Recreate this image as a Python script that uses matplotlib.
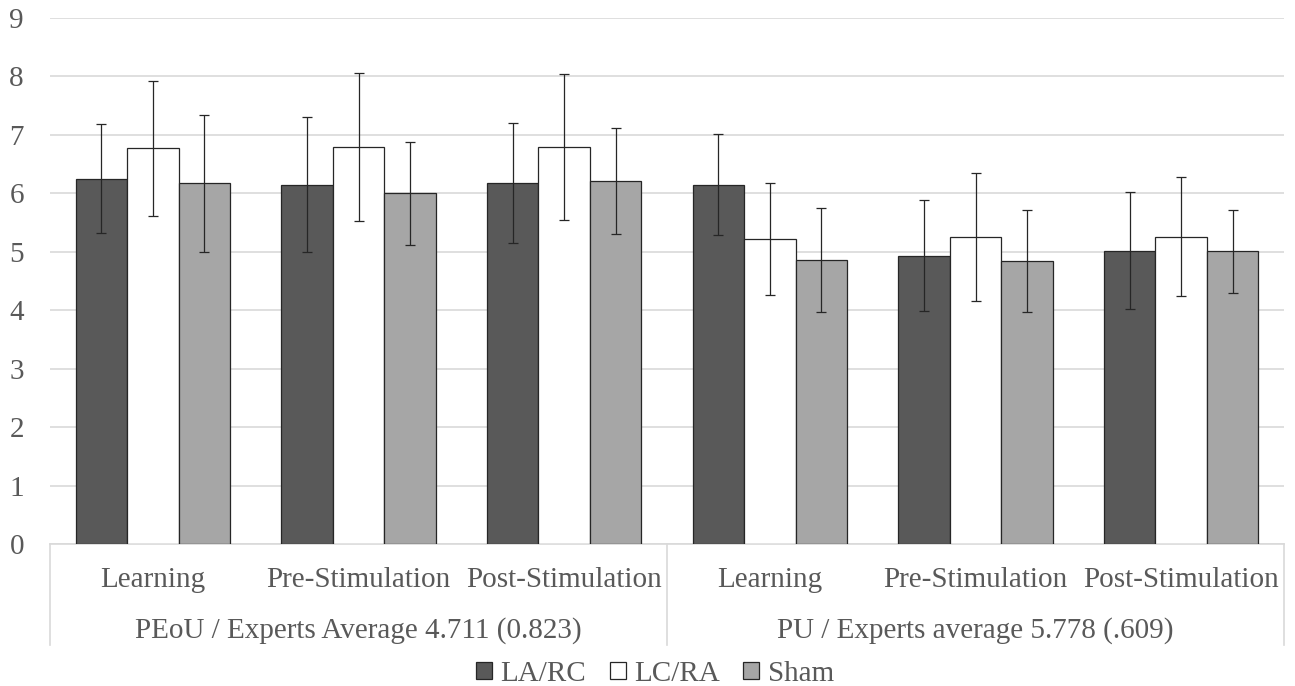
import matplotlib.pyplot as plt
import numpy as np
from matplotlib.patches import Patch
from matplotlib.transforms import blended_transform_factory

phases = ['Learning', 'Pre-Stimulation', 'Post-Stimulation',
          'Learning', 'Pre-Stimulation', 'Post-Stimulation']
groups = ['PEoU / Experts Average 4.711 (0.823)', 'PU / Experts average 5.778 (.609)']
series_names = ['LA/RC', 'LC/RA', 'Sham']

la_rc = [6.25, 6.15, 6.18, 6.15, 4.93, 5.02]
la_rc_err = [0.93, 1.16, 1.03, 0.87, 0.95, 1.00]
lc_ra = [6.77, 6.79, 6.79, 5.22, 5.25, 5.26]
lc_ra_err = [1.15, 1.27, 1.25, 0.96, 1.09, 1.02]
sham = [6.17, 6.00, 6.21, 4.86, 4.84, 5.01]
sham_err = [1.17, 0.88, 0.91, 0.89, 0.87, 0.71]

colors = ['#595959', '#ffffff', '#a6a6a6']
text_color = '#595959'

plt.rcParams['font.family'] = ['Liberation Serif', 'DejaVu Serif']
plt.rcParams['font.size'] = 21

fig = plt.figure(figsize=(12.95, 6.86), dpi=100)
W, H = 1295, 686
ax = fig.add_axes([50 / W, (H - 544) / H, (1284 - 50) / W, (544 - 18) / H])

x = np.arange(len(phases))
width = 0.25
values = [la_rc, lc_ra, sham]
errors = [la_rc_err, lc_ra_err, sham_err]
for i, (vals, errs) in enumerate(zip(values, errors)):
    ax.bar(x + (i - 1) * width, vals, width, color=colors[i], edgecolor='#262626',
           linewidth=0.9, zorder=3)
    ax.errorbar(x + (i - 1) * width, vals, yerr=errs, fmt='none', ecolor='#262626',
                elinewidth=0.9, capsize=3.5, capthick=0.9, zorder=4)

ax.set_xlim(-0.5, len(phases) - 0.5)
ax.set_ylim(0, 9)
ax.set_yticks(range(0, 10))
ax.grid(axis='y', color='#d9d9d9', linewidth=1.2, zorder=0)
for s in ['top', 'right', 'left']:
    ax.spines[s].set_visible(False)
ax.spines['bottom'].set_color('#d9d9d9')
ax.spines['bottom'].set_linewidth(1.2)
ax.tick_params(axis='y', length=0, pad=24, labelcolor=text_color)
ax.tick_params(axis='x', length=0, labelbottom=False)
for lab in ax.get_yticklabels():
    lab.set_horizontalalignment('center')

trans = blended_transform_factory(ax.transData, ax.transAxes)
ah = 544 - 18
for xi, name in zip(x, phases):
    ax.text(xi, -(587 - 544) / ah, name, transform=trans, ha='center', va='baseline',
            color=text_color)
for gi, name in enumerate(groups):
    ax.text(gi * 3 + 1, -(638 - 544) / ah, name, transform=trans, ha='center',
            va='baseline', color=text_color)
for xd in [-0.5, 2.5, 5.5]:
    ax.plot([xd, xd], [0, -(645 - 544) / ah], transform=trans, color='#d9d9d9',
            linewidth=1.2, clip_on=False)

handles = [Patch(facecolor=c, edgecolor='#262626', linewidth=0.9) for c in colors]
fig.legend(handles, series_names, loc='center', ncol=3,
           bbox_to_anchor=(655 / W, (H - 674) / H), frameon=False,
           handlelength=0.55, handleheight=0.55, handletextpad=0.3,
           columnspacing=0.8, labelcolor=text_color, borderpad=0)

fig.savefig('out.png', dpi=100)
